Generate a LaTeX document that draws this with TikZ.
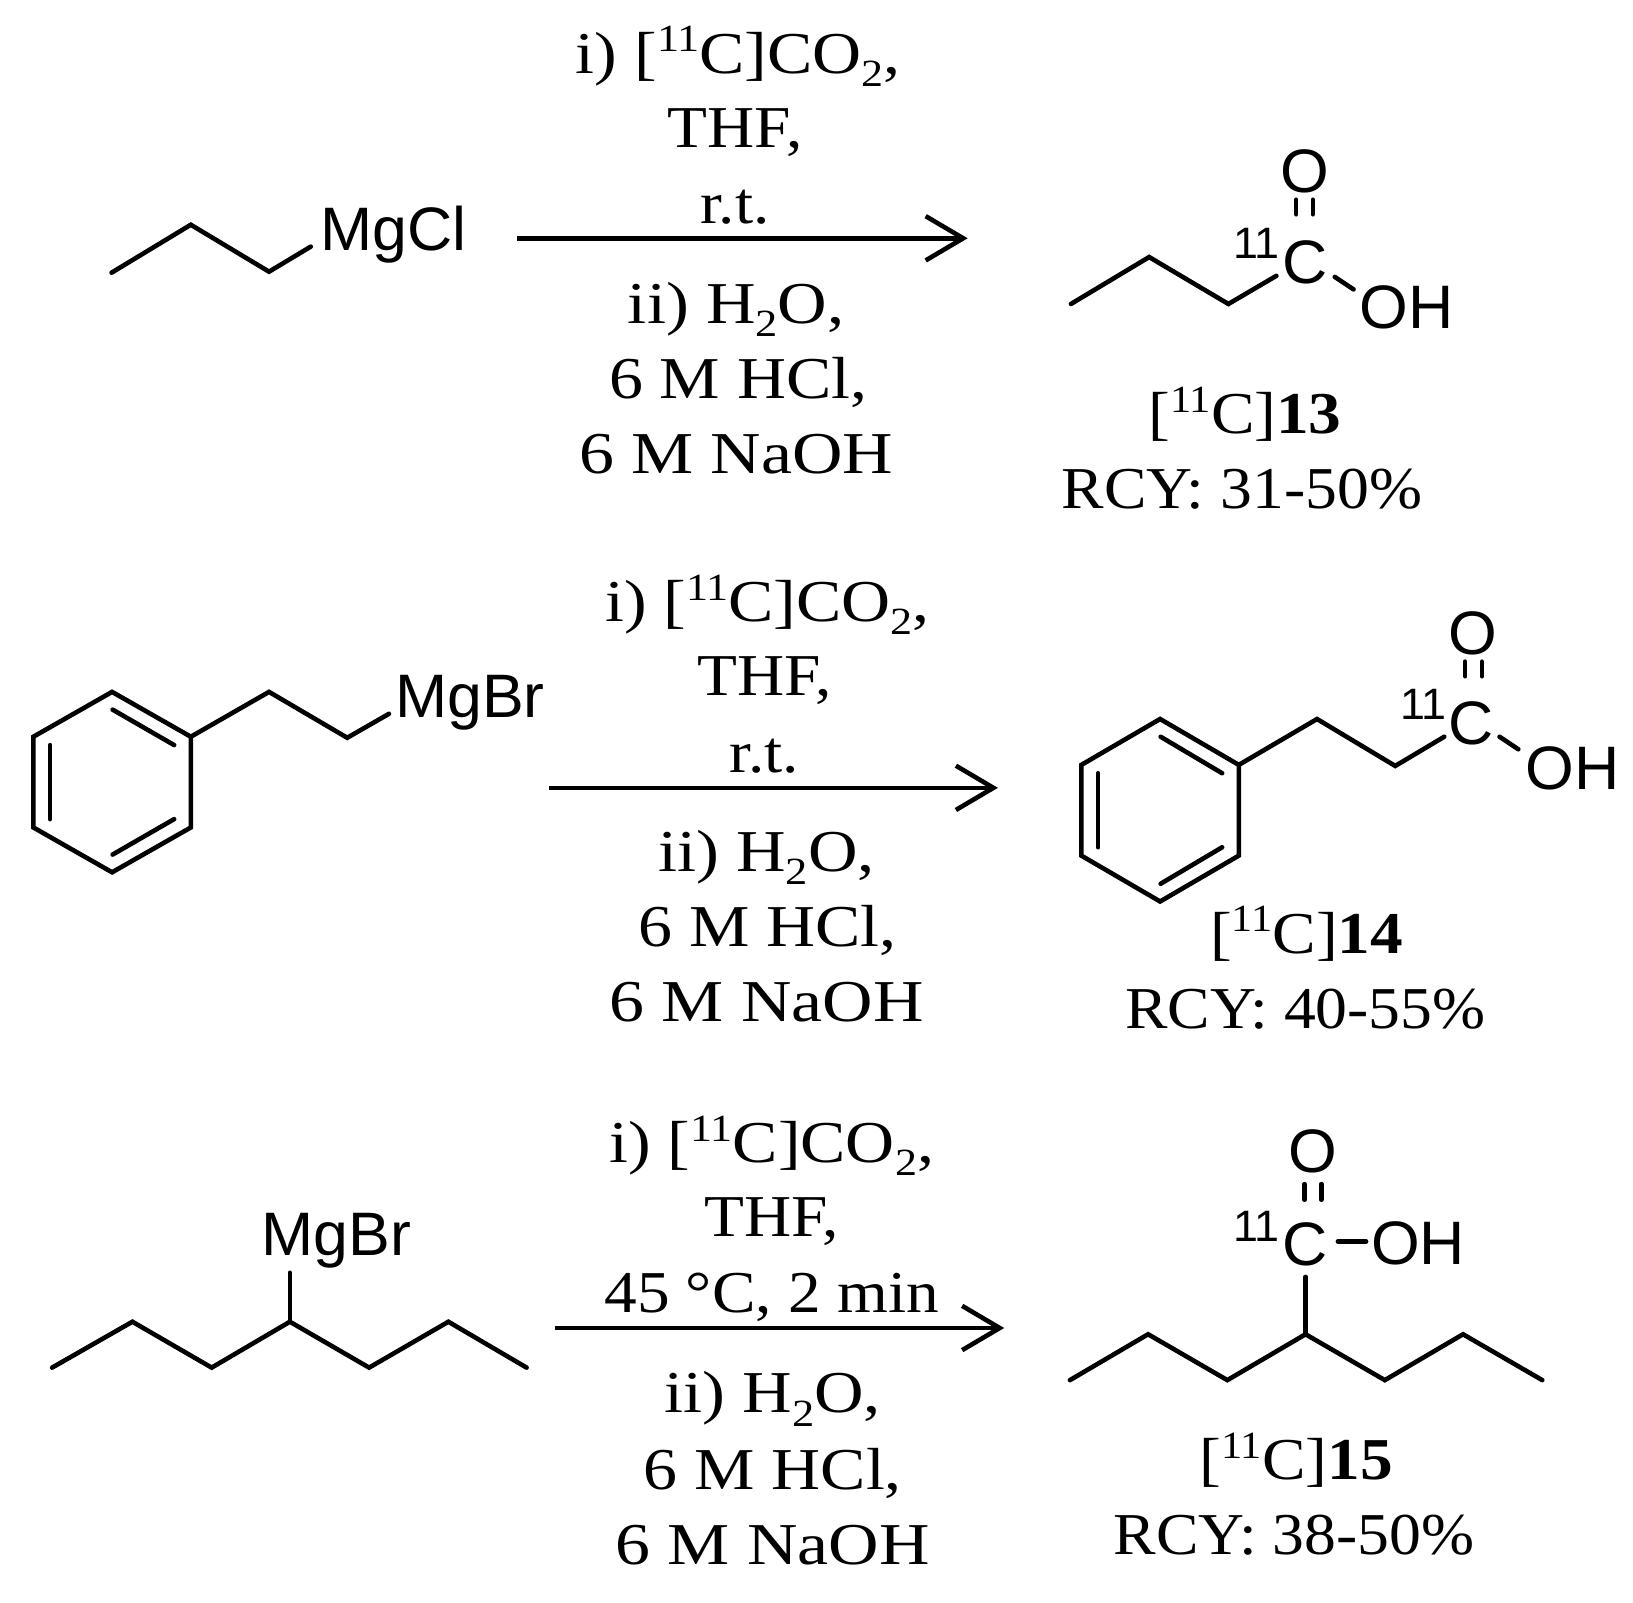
\documentclass[tikz,border=0pt]{standalone}
\usepackage{fontspec}
\usetikzlibrary{arrows.meta}
\setmainfont[FakeStretch=1.1]{Liberation Serif}
\newfontfamily\chemfont[FakeStretch=1.02]{Liberation Sans}
\newcommand{\supn}[1]{\raisebox{0.36em}{\fontsize{21}{21}\selectfont #1}}
\newcommand{\subn}[1]{\raisebox{-0.22em}{\fontsize{21}{21}\selectfont #1}}
\newcommand{\sx}[2]{\scalebox{#1}[1]{#2}}
\newcommand{\lineco}{\sx{1.04}{i) [\supn{11}C]CO\subn{2},}}
\newcommand{\linewater}{\sx{1.05}{ii) H\subn{2}O,}}
\newcommand{\linehcl}{\sx{1.04}{6 M HCl,}}
\newcommand{\linenaoh}{\sx{1.07}{6 M NaOH}}
\tikzset{
  txt/.style={anchor=base,inner sep=0pt,outer sep=0pt,font=\fontsize{32.4}{36}\selectfont},
  atom/.style={anchor=base,inner sep=0pt,outer sep=0pt,font=\chemfont\fontsize{33.5}{36}\selectfont},
  iso/.style={anchor=base,inner sep=0pt,outer sep=0pt,font=\chemfont\fontsize{24}{26}\selectfont},
  bond/.style={line width=0.088cm,line cap=round,line join=miter},
  rxn/.style={line width=0.088cm,-{Straight Barb[length=0.72cm,width=0.85cm,line width=0.088cm]}}
}
\begin{document}
\begin{tikzpicture}[x=0.02cm,y=-0.02cm]
\useasboundingbox (0,1.5) rectangle (1566,1537.8);
% ---------- Row 1
\node[txt] (t1a) at (708,71.5) {\lineco};
\node[txt] (t1b) at (705,142.5) {THF,};
\node[txt] (t1c) at (705,215.5) {r.t.};
\node[txt] (t1d) at (706,311.5) {\linewater};
\node[txt] (t1e) at (708,383.5) {\linehcl};
\node[txt] (t1f) at (706,455.5) {\linenaoh};
\coordinate (r1s) at (496,230); \coordinate (r1e) at (928,230);
\draw[rxn] (r1s) -- (r1e);
\node[atom,anchor=base west] (mgcl) at (307,241.5) {MgCl};
\coordinate (a1) at (107,263); \coordinate (a2) at (183,217); \coordinate (a3) at (258,262); \coordinate (a4) at (298,238);
\draw[bond] (a1) -- (a2) -- (a3) -- (a4);
\coordinate (b1) at (1027,293); \coordinate (b2) at (1102,248); \coordinate (b3) at (1178,293); \coordinate (b4) at (1224,266);
\draw[bond] (b1) -- (b2) -- (b3) -- (b4);
\node[atom] (c1) at (1252,273.5) {C};
\node[iso] (i1) at (1205,249) {11};
\node[atom] (o1) at (1251,186.5) {O};
\node[atom,anchor=base west] (oh1) at (1304,316.5) {OH};
\coordinate (d1a) at (1243,193); \coordinate (d1b) at (1243,207); \coordinate (d1c) at (1259,193); \coordinate (d1d) at (1259,207);
\draw[bond] (d1a) -- (d1b); \draw[bond] (d1c) -- (d1d);
\coordinate (e1a) at (1280,267); \coordinate (e1b) at (1298,279);
\draw[bond] (e1a) -- (e1b);
\node[txt] (l1a) at (1194,417.5) {[\supn{11}C]\textbf{13}};
\node[txt] (l1b) at (1191,489.5) {\sx{0.975}{RCY: 31-50\%}};
% ---------- Row 2
\node[txt] (t2a) at (736,597.5) {\lineco};
\node[txt] (t2b) at (733,668.5) {THF,};
\node[txt] (t2c) at (733,742.5) {r.t.};
\node[txt] (t2d) at (735,837.5) {\linewater};
\node[txt] (t2e) at (736,909.5) {\linehcl};
\node[txt] (t2f) at (735,981.5) {\linenaoh};
\coordinate (r2s) at (526,757); \coordinate (r2e) at (957,757);
\draw[rxn] (r2s) -- (r2e);
% reactant ring
\coordinate (p1) at (107.5,665); \coordinate (p2) at (183,708); \coordinate (p3) at (183,795);
\coordinate (p4) at (107.5,838); \coordinate (p5) at (32,795); \coordinate (p6) at (32,708);
\draw[bond] (p1) -- (p2) -- (p3) -- (p4) -- (p5) -- (p6) -- cycle;
\coordinate (q1a) at (108,682); \coordinate (q1b) at (167,716);
\coordinate (q2a) at (48,716); \coordinate (q2b) at (48,787);
\coordinate (q3a) at (108,821); \coordinate (q3b) at (167,787);
\draw[bond] (q1a) -- (q1b); \draw[bond] (q2a) -- (q2b); \draw[bond] (q3a) -- (q3b);
\coordinate (p7) at (258,665); \coordinate (p8) at (333,709); \coordinate (p9) at (373,686);
\draw[bond] (p2) -- (p7) -- (p8) -- (p9);
\node[atom,anchor=base west] (mgbr1) at (379,689.5) {MgBr};
% product ring
\coordinate (s1) at (1112.5,691); \coordinate (s2) at (1188,735); \coordinate (s3) at (1188,822);
\coordinate (s4) at (1112.5,866); \coordinate (s5) at (1037,822); \coordinate (s6) at (1037,735);
\draw[bond] (s1) -- (s2) -- (s3) -- (s4) -- (s5) -- (s6) -- cycle;
\coordinate (u1a) at (1113,708); \coordinate (u1b) at (1172,743);
\coordinate (u2a) at (1053,743); \coordinate (u2b) at (1053,814);
\coordinate (u3a) at (1113,849); \coordinate (u3b) at (1172,814);
\draw[bond] (u1a) -- (u1b); \draw[bond] (u2a) -- (u2b); \draw[bond] (u3a) -- (u3b);
\coordinate (s7) at (1263,691); \coordinate (s8) at (1338,736); \coordinate (s9) at (1385,708);
\draw[bond] (s2) -- (s7) -- (s8) -- (s9);
\node[atom] (c2) at (1411,715) {C};
\node[iso] (i2) at (1365,691) {11};
\node[atom] (o2) at (1412,629.5) {O};
\node[atom,anchor=base west] (oh2) at (1463,758.5) {OH};
\coordinate (d2a) at (1405,636); \coordinate (d2b) at (1405,650); \coordinate (d2c) at (1421,636); \coordinate (d2d) at (1421,650);
\draw[bond] (d2a) -- (d2b); \draw[bond] (d2c) -- (d2d);
\coordinate (e2a) at (1438,708); \coordinate (e2b) at (1456,720);
\draw[bond] (e2a) -- (e2b);
\node[txt] (l2a) at (1253,915.5) {[\supn{11}C]\textbf{14}};
\node[txt] (l2b) at (1252,987.5) {\sx{0.975}{RCY: 40-55\%}};
% ---------- Row 3
\node[txt] (t3a) at (740,1116.5) {\lineco};
\node[txt] (t3b) at (740,1187.5) {THF,};
\node[txt] (t3c) at (740,1260.5) {45 °C, 2 min};
\node[txt] (t3d) at (741,1356.5) {\linewater};
\node[txt] (t3e) at (741,1429.5) {\linehcl};
\node[txt] (t3f) at (741,1501.5) {\linenaoh};
\coordinate (r3s) at (532,1275); \coordinate (r3e) at (963,1275);
\draw[rxn] (r3s) -- (r3e);
\coordinate (f1) at (50,1313); \coordinate (f2) at (127,1269); \coordinate (f3) at (203,1313); \coordinate (f4) at (278,1269);
\coordinate (f5) at (354,1313); \coordinate (f6) at (430,1269); \coordinate (f7) at (505,1313); \coordinate (f8) at (278,1222);
\draw[bond] (f1) -- (f2) -- (f3) -- (f4) -- (f5) -- (f6) -- (f7);
\draw[bond] (f4) -- (f8);
\node[atom,anchor=base west] (mgbr2) at (251,1205) {MgBr};
\coordinate (g1) at (1026,1325); \coordinate (g2) at (1101,1281); \coordinate (g3) at (1177,1325); \coordinate (g4) at (1252,1281);
\coordinate (g5) at (1328,1325); \coordinate (g6) at (1403,1281); \coordinate (g7) at (1479,1325); \coordinate (g8) at (1252,1226);
\draw[bond] (g1) -- (g2) -- (g3) -- (g4) -- (g5) -- (g6) -- (g7);
\draw[bond] (g4) -- (g8);
\node[atom] (c3) at (1252,1215) {C};
\node[iso] (i3) at (1205,1192) {11};
\node[atom] (o3) at (1259,1126) {O};
\node[atom,anchor=base west] (oh3) at (1315,1214.5) {OH};
\coordinate (d3a) at (1251,1137); \coordinate (d3b) at (1251,1152); \coordinate (d3c) at (1267,1137); \coordinate (d3d) at (1267,1152);
\draw[bond] (d3a) -- (d3b); \draw[bond] (d3c) -- (d3d);
\coordinate (e3a) at (1283,1192); \coordinate (e3b) at (1310,1192);
\draw[bond] (e3a) -- (e3b);
\node[txt] (l3a) at (1243,1420.5) {[\supn{11}C]\textbf{15}};
\node[txt] (l3b) at (1241,1492.5) {\sx{0.975}{RCY: 38-50\%}};
\end{tikzpicture}
\end{document}
